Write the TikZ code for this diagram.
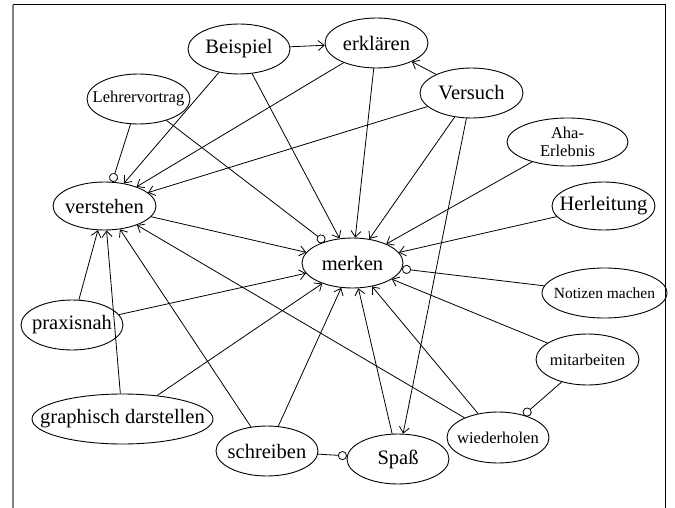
\documentclass[tikz,border=0pt]{standalone}
\usepackage{fontspec}
\setmainfont{Liberation Serif}
\usetikzlibrary{shapes.geometric,arrows.meta}
\begin{document}
\begin{tikzpicture}[x=1pt,y=-1pt,
  ell/.style={draw, ellipse, line width=0.9pt, inner sep=0pt, minimum width=102pt, minimum height=50pt},
  big/.style={font=\fontsize{20.5}{24}\selectfont},
  sml/.style={font=\fontsize{16.5}{18.5}\selectfont},
  arr/.style={-{Straight Barb[length=6pt,width=10pt]}, line width=0.8pt},
  circ/.style={-{Circle[open,length=9pt,width=9pt]}, line width=0.8pt}]
\useasboundingbox (0,0) rectangle (675,508);
% frame
\draw[gray, line width=1.3pt] (13,4.7) -- (13,508);
\draw[line width=1.3pt] (12.5,4.7) -- (665.3,4.7) -- (665.3,508);
% nodes
\node[ell, label={[big]center:Beispiel}] (bsp) at (239,49) {};
\node[ell, minimum width=103pt, label={[big]center:erklären}] (erk) at (376.5,43) {};
\node[ell, minimum width=103pt, label={[big]center:Versuch}] (vrs) at (471.5,93) {};
\node[ell, minimum width=121pt, minimum height=48pt, label={[sml,align=center]center:{Aha-\\Erlebnis}}] (aha) at (567.5,142) {};
\node[ell, minimum width=103pt, minimum height=48pt, label={[big]center:Herleitung}] (her) at (603.5,206) {};
\node[ell, minimum width=103pt, label={[sml]center:Lehrervortrag}] (leh) at (138.5,99) {};
\node[ell, minimum width=103pt, minimum height=48pt, label={[big]center:verstehen}] (ver) at (104.5,206) {};
\node[ell, minimum width=101pt, label={[big]center:merken}] (mer) at (352.5,263) {};
\node[ell, minimum width=125pt, label={[sml,font=\fontsize{15.5}{18}\selectfont]center:Notizen machen}] (not) at (604.5,293) {};
\node[ell, minimum width=103pt, minimum height=51pt, label={[sml]center:mitarbeiten}] (mit) at (587.5,359.5) {};
\node[ell, minimum height=51pt, label={[sml]center:wiederholen}] (wie) at (498,437.5) {};
\node[ell, label={[big]center:Spaß}] (spa) at (398,459) {};
\node[ell, label={[big]center:schreiben}] (sch) at (267,451) {};
\node[ell, minimum width=181pt, label={[big]center:graphisch darstellen}] (gra) at (122.5,419) {};
\node[ell, label={[big]center:praxisnah}] (pra) at (72,325) {};
% connectors
\draw[arr] (bsp) -- (erk);
\draw[arr] (bsp) -- (ver);
\draw[arr] (bsp) -- (mer);
\draw[arr] (erk) -- (ver);
\draw[arr] (erk) -- (mer);
\draw[circ] (leh) -- (ver);
\draw[circ] (leh) -- (mer);
\draw[arr] (vrs) -- (erk);
\draw[arr] (vrs) -- (ver);
\draw[arr] (vrs) -- (mer);
\draw[arr] (vrs) -- (spa);
\draw[arr] (aha) -- (mer);
\draw[arr] (her) -- (mer);
\draw[arr] (ver) -- (mer);
\draw[circ] (not) -- (mer);
\draw[arr] (mit) -- (mer);
\draw[circ] (mit) -- (wie);
\draw[arr] (wie) -- (mer);
\draw[arr] (wie) -- (ver);
\draw[arr] (spa) -- (mer);
\draw[circ] (sch) -- (spa);
\draw[arr] (sch) -- (mer);
\draw[arr] (sch) -- (ver);
\draw[arr] (gra) -- (mer);
\draw[arr] (gra) -- (ver);
\draw[arr] (pra) -- (ver);
\draw[arr] (pra) -- (mer);
\end{tikzpicture}
\end{document}
